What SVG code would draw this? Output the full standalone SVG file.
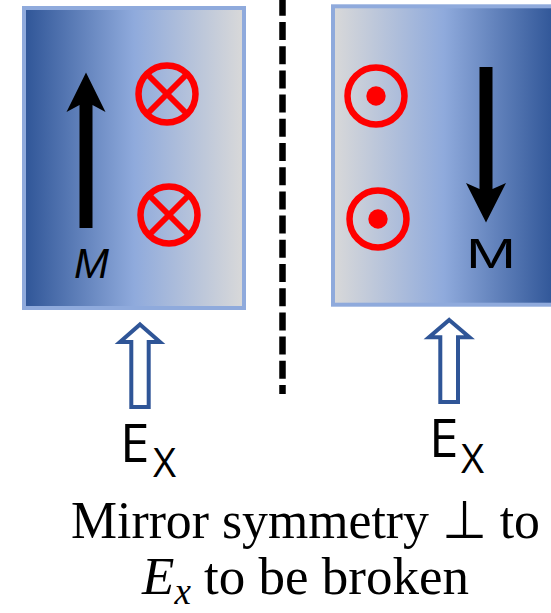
<svg xmlns="http://www.w3.org/2000/svg" width="551" height="613" viewBox="0 0 551 613">
<defs>
<linearGradient id="gL" x1="0" y1="0" x2="1" y2="0">
<stop offset="0" stop-color="#2F5597"/>
<stop offset="0.5" stop-color="#8FAADC"/>
<stop offset="1" stop-color="#D9D9D9"/>
</linearGradient>
<linearGradient id="gR" x1="0" y1="0" x2="1" y2="0">
<stop offset="0" stop-color="#D9D9D9"/>
<stop offset="0.5" stop-color="#8FAADC"/>
<stop offset="1" stop-color="#2F5597"/>
</linearGradient>
</defs>
<style>
.box{stroke:#8FAADC;stroke-width:4}
.ring{fill:none;stroke:#FF0000;stroke-width:6.5}
.cross{stroke:#FF0000;stroke-width:6}
.dot{fill:#FF0000}
.mag{fill:#000000}
.efield{fill:#FFFFFF;stroke:#2F5597;stroke-width:4;stroke-linejoin:miter}
.lbl{font-family:"Open Sans","Liberation Sans",sans-serif;fill:#000}
.cap{font-family:"Liberation Serif","Times New Roman",serif;font-size:53px;fill:#000}
</style>
<g id="left-slab">
<rect class="box" x="24" y="8" width="220" height="300" fill="url(#gL)"/>
</g>
<g id="right-slab">
<rect class="box" x="333" y="6.3" width="222" height="298.4" fill="url(#gR)"/>
</g>
<g id="left-M-arrow">
<polygon class="mag" points="86,72.5 105.5,112 92.5,105 92.5,228 79.5,228 79.5,105 66.5,112"/>
<text x="74" y="278" font-family="Liberation Sans, Arial, sans-serif" font-style="italic" font-size="42">M</text>
</g>
<g id="right-M-arrow">
<polygon class="mag" points="479.5,67 492.5,67 492.5,189 506,183 486,222.5 466,183 479.5,189"/>
<text x="466" y="268" font-family="Liberation Sans, Arial, sans-serif" font-size="42" textLength="50" lengthAdjust="spacingAndGlyphs">M</text>
</g>
<g id="left-cross-top">
<circle class="ring" cx="167" cy="94" r="28.5"/>
<line class="cross" x1="147" y1="74" x2="187" y2="114"/>
<line class="cross" x1="187" y1="74" x2="147" y2="114"/>
</g>
<g id="left-cross-bottom">
<circle class="ring" cx="169" cy="215" r="28.5"/>
<line class="cross" x1="149" y1="195" x2="189" y2="235"/>
<line class="cross" x1="189" y1="195" x2="149" y2="235"/>
</g>
<g id="right-dot-top">
<circle class="ring" cx="376" cy="96" r="28.5"/>
<circle class="dot" cx="376" cy="96" r="9.7"/>
</g>
<g id="right-dot-bottom">
<circle class="ring" cx="378" cy="219" r="28.5"/>
<circle class="dot" cx="378" cy="219" r="9.7"/>
</g>
<g id="connectors">
<line x1="282.5" y1="-2.2" x2="282.5" y2="394" stroke="#000" stroke-width="6.5" stroke-dasharray="18 6.2"/>
</g>
<g id="left-Ex">
<path class="efield" d="M140,324.5 L160,342 L148.7,342 L148.7,407 L131.3,407 L131.3,342 L120,342 Z"/>
<text class="lbl" x="120" y="462" font-size="53">E</text>
<text class="lbl" x="153" y="477" font-size="40">X</text>
</g>
<g id="right-Ex">
<path class="efield" d="M449.2,320 L469.5,337.3 L458,337.3 L458,402 L440.3,402 L440.3,337.3 L429,337.3 Z"/>
<text class="lbl" x="429" y="457" font-size="53">E</text>
<text class="lbl" x="461" y="473" font-size="40">X</text>
</g>
<g id="caption">
<text class="cap" x="71" y="538" textLength="469" lengthAdjust="spacingAndGlyphs">Mirror symmetry ⊥ to</text>
<text class="cap" x="142" y="594"><tspan font-style="italic">E</tspan><tspan font-style="italic" font-size="37" dy="10">x</tspan><tspan dy="-10"> to be broken</tspan></text>
</g>
</svg>
